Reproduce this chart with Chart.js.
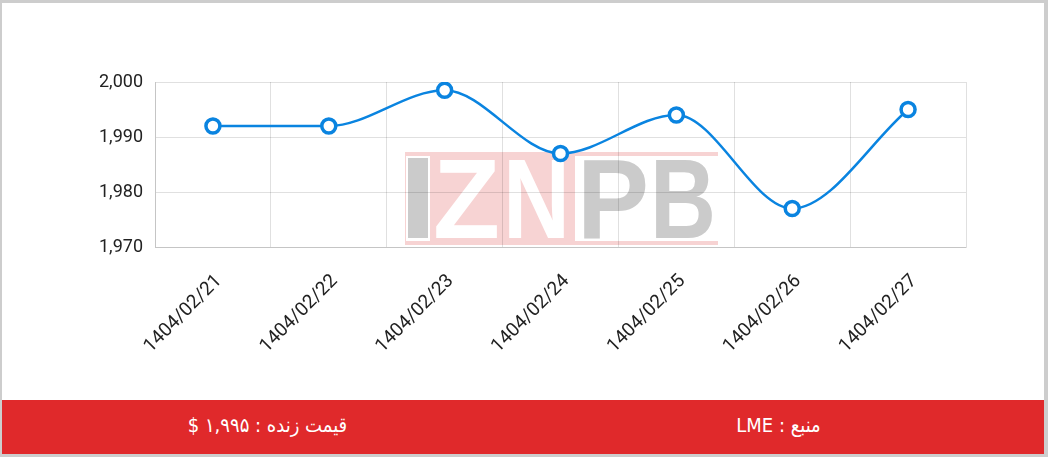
<!DOCTYPE html>
<html>
<head>
<meta charset="utf-8">
<script src="https://cdn.jsdelivr.net/npm/chart.js@4.4.0/dist/chart.umd.min.js"></script>
<style>
    body { margin: 0; background: #cdcdcd; width: 1048px; height: 457px; overflow: hidden; }
    .card { position: absolute; left: 2px; top: 3px; width: 1042px; height: 451px; background: #fff; }
    .chartBox { position: absolute; left: 0; top: 0; width: 1042px; height: 397px; }
    .footer {
        position: absolute; left: 0; top: 397px; width: 1042px; height: 54px;
        background: #e0292b; display: flex; direction: ltr;
    }
    .footer div {
        flex: 1; text-align: center; line-height: 50px; color: #fff;
        font-family: "DejaVu Sans Condensed", "DejaVu Sans", sans-serif; font-size: 20px;
    }
</style>
</head>
<body>
<div class="card">
    <div class="chartBox"><canvas id="lineChart"></canvas></div>
    <div class="footer">
        <div dir="rtl" style="padding-left: 10px">قیمت زنده : ۱,۹۹۵ $</div>
        <div dir="rtl" style="padding-right: 10px">منبع : LME</div>
    </div>
</div>
<script>
const dates = ['1404/02/21', '1404/02/22', '1404/02/23', '1404/02/24', '1404/02/25', '1404/02/26', '1404/02/27'];
const prices = [1992, 1992, 1998.5, 1987, 1994, 1977, 1995];
const yTicks = [1970, 1980, 1990, 2000];

// watermark logo drawn behind the grid
const watermark = {
    id: 'watermark',
    beforeDraw(chart) {
        const ctx = chart.ctx;
        const ox = chart.chartArea.left + 250;
        const oy = chart.chartArea.top + 70;
        ctx.save();
        ctx.fillStyle = '#f7d3d3';
        ctx.fillRect(ox, oy, 313, 4);
        ctx.fillRect(ox, oy + 89, 313, 4);
        ctx.fillRect(ox, oy, 170, 93);
        ctx.fillStyle = '#fff';
        ctx.fillRect(ox + 1, oy + 4, 24, 85);
        ctx.fillStyle = '#cbcbcb';
        ctx.fillRect(ox + 3, oy + 6, 20, 80);
        ctx.font = 'bold 113px "Liberation Sans", Arial, sans-serif';
        ctx.textBaseline = 'alphabetic';
        ctx.fillStyle = '#fff';
        ctx.fillText('Z', ox + 28, oy + 86, 67);
        ctx.fillText('N', ox + 98, oy + 86, 67);
        ctx.fillStyle = '#cbcbcb';
        ctx.fillText('P', ox + 172, oy + 86, 72);
        ctx.fillText('B', ox + 245, oy + 86, 66);
        ctx.restore();
    }
};

new Chart(document.getElementById('lineChart').getContext('2d'), {
    type: 'line',
    data: {
        labels: dates,
        datasets: [{
            label: 'LME',
            data: prices,
            borderColor: '#0a84e0',
            borderWidth: 2.5,
            backgroundColor: '#fff',
            pointBackgroundColor: '#fff',
            pointBorderColor: '#0a84e0',
            pointBorderWidth: 3.5,
            pointRadius: 7,
            cubicInterpolationMode: 'monotone',
            fill: false
        }]
    },
    options: {
        responsive: true,
        maintainAspectRatio: false,
        animation: false,
        layout: { padding: { top: 79, right: 78, left: 0, bottom: 0 } },
        plugins: {
            legend: { display: false },
            tooltip: { enabled: false }
        },
        scales: {
            x: {
                offset: true,
                grid: { offset: true, color: 'rgba(0,0,0,0.12)', drawTicks: false },
                border: { color: 'rgba(0,0,0,0.12)' },
                afterFit: (scale) => { scale.height = 153; },
                ticks: {
                    color: '#222',
                    font: { family: 'Roboto', size: 19 },
                    minRotation: 45,
                    maxRotation: 45,
                    padding: 23,
                    labelOffset: 6
                }
            },
            y: {
                min: 1970,
                max: 2000,
                afterFit: (scale) => { scale.width = 153; },
                afterBuildTicks: (scale) => { scale.ticks = yTicks.map(v => ({ value: v })); },
                grid: { color: 'rgba(0,0,0,0.12)', drawTicks: false },
                border: { color: 'rgba(0,0,0,0.12)' },
                ticks: {
                    color: '#222',
                    font: { family: 'Roboto', size: 18 },
                    padding: 12
                }
            }
        }
    },
    plugins: [watermark]
});
</script>
</body>
</html>
